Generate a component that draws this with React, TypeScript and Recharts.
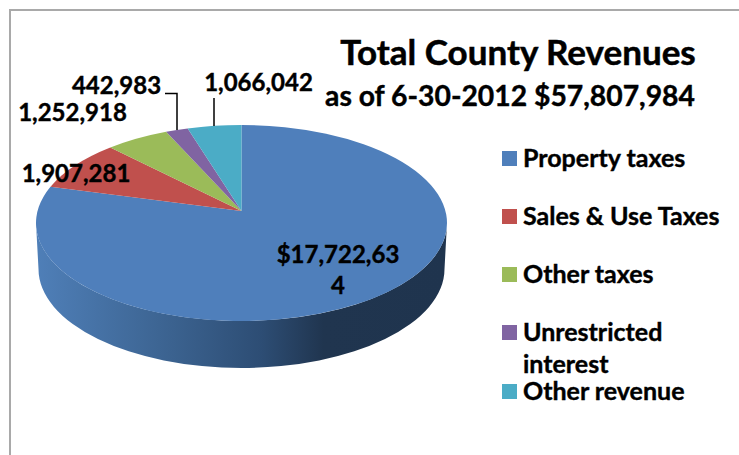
import { PieChart, Pie, Cell, Legend } from 'recharts'

const CATEGORIES = ['Property taxes', 'Sales & Use Taxes', 'Other taxes', 'Unrestricted interest', 'Other revenue']
const VALUES = [17722634, 1907281, 1252918, 442983, 1066042]
const COLORS = ['#4f7fbb', '#c0504d', '#9bbb59', '#8064a2', '#4bacc6']
const TITLE = 'Total County Revenues'
const SUBTITLE = 'as of 6-30-2012 $57,807,984'

const data = CATEGORIES.map((name, i) => ({ name, value: VALUES[i] }))

const FONT = 'Lato, sans-serif'
const RY = 98
const DEPTH_RX = 203
const DEPTH_RY = 99
const DEPTH_CY = 269
const FACE_DROP = 12 // ellipse centre sits below the apex because of the tilt
const SQUEEZE = 0.884 // perspective squeeze of the angles towards the back

// Pie angle -> angle around the tilted ellipse, clockwise from the top
function project(angle: number) {
  const a = ((90 - angle) * Math.PI) / 180
  const t = 2 * Math.atan(SQUEEZE * Math.tan(a / 2))
  return t < 0 ? t + 2 * Math.PI : t
}

function TiltedSector({ cx, cy, outerRadius, startAngle, endAngle, fill }: {
  cx: number; cy: number; outerRadius: number; startAngle: number; endAngle: number; fill: string
}) {
  const t0 = project(startAngle)
  const t1 = project(endAngle)
  const ey = cy + FACE_DROP
  const x0 = cx + outerRadius * Math.sin(t0)
  const y0 = ey - RY * Math.cos(t0)
  const x1 = cx + outerRadius * Math.sin(t1)
  const y1 = ey - RY * Math.cos(t1)
  const large = t1 - t0 > Math.PI ? 1 : 0
  const face = `M${cx},${cy} L${x0},${y0} A${outerRadius},${RY} 0 ${large} 1 ${x1},${y1} Z`
  // only the big slice shows its side, it covers the whole front
  const wall = `M${cx + outerRadius},${ey} A${outerRadius},${RY} 0 0 1 ${cx - outerRadius},${ey} L${cx - DEPTH_RX},${DEPTH_CY} A${DEPTH_RX},${DEPTH_RY} 0 0 0 ${cx + DEPTH_RX},${DEPTH_CY} Z`
  return (
    <g>
      {startAngle === 90 && <path d={wall} fill="url(#wallFill)" />}
      <path d={face} fill={fill} />
    </g>
  )
}

const LABEL_POS = [
  { x: 338, y: 263 },
  { x: 76, y: 182 },
  { x: 72.5, y: 121 },
  { x: 116.5, y: 94 },
  { x: 258.5, y: 91 },
]
const LEADERS: Record<number, string> = {
  3: '165,93.5 177,93.5 177,130',
  4: '214,98 214,126',
}

function SliceLabel({ index, value }: { index: number; value: number }) {
  const p = LABEL_POS[index]
  const style = { fontFamily: FONT, fontWeight: 700, fontSize: 24, fill: '#000', stroke: '#000', strokeWidth: 0.4 }
  if (index === 0) {
    const txt = '$' + value.toLocaleString('en-US')
    return (
      <text x={p.x} y={p.y} textAnchor="middle" style={style}>
        <tspan x={p.x}>{txt.slice(0, -1)}</tspan>
        <tspan x={p.x} dy={31}>{txt.slice(-1)}</tspan>
      </text>
    )
  }
  return (
    <g>
      {LEADERS[index] && <polyline points={LEADERS[index]} fill="none" stroke="#000" strokeWidth={1.5} />}
      <text x={p.x} y={p.y} textAnchor="middle" style={style}>{value.toLocaleString('en-US')}</text>
    </g>
  )
}

function LegendRows({ payload }: { payload?: { value: string; color: string }[] }) {
  return (
    <div style={{ position: 'relative', fontFamily: FONT, fontWeight: 700, fontSize: 25, color: '#000', WebkitTextStroke: '0.4px #000' }}>
      {(payload ?? []).map((item, i) => (
        <div key={item.value} style={{ position: 'absolute', left: 502, top: [151, 209, 267, 325, 384][i] }}>
          <div style={{ position: 'absolute', left: 0, top: 0, width: 15, height: 15, backgroundColor: item.color }} />
          <div style={{ position: 'absolute', left: 21, top: -10, width: 215, lineHeight: '32px' }}>{item.value}</div>
        </div>
      ))}
    </div>
  )
}

export default function App() {
  return (
    <div style={{ position: 'absolute', left: 0, top: 0, width: 739, height: 455, overflow: 'hidden', backgroundColor: '#fff' }}>
      <div style={{ position: 'absolute', left: 9, top: 9, width: 728, height: 470, border: '2px solid #a9a9a9' }} />
      <PieChart width={739} height={455} margin={{ top: 0, right: 0, bottom: 0, left: 0 }} style={{ position: 'absolute', left: 0, top: 0 }}>
        <defs>
          <linearGradient id="wallFill" x1="0" y1="0" x2="1" y2="0">
            <stop offset="0" stopColor="#4f7fb8" />
            <stop offset="0.3" stopColor="#3d6593" />
            <stop offset="0.55" stopColor="#2d4d74" />
            <stop offset="0.7" stopColor="#20354f" />
            <stop offset="1" stopColor="#1f344e" />
          </linearGradient>
        </defs>
        <Pie
          data={data}
          dataKey="value"
          nameKey="name"
          cx={241.5}
          cy={211}
          innerRadius={0}
          outerRadius={205.5}
          startAngle={90}
          endAngle={-270}
          stroke="none"
          isAnimationActive={false}
          shape={TiltedSector as never}
          labelLine={false}
          label={SliceLabel as never}
        >
          {data.map((_, i) => <Cell key={i} fill={COLORS[i]} />)}
        </Pie>
        <Legend itemSorter={null} content={LegendRows as never} wrapperStyle={{ position: 'absolute', left: 0, top: 0, width: 739, height: 0 }} />
        <text x={518} y={65} textAnchor="middle" style={{ fontFamily: FONT, fontWeight: 700, fontSize: 35, fill: '#000', stroke: '#000', strokeWidth: 0.5 }}>{TITLE}</text>
        <text x={510} y={106} textAnchor="middle" style={{ fontFamily: FONT, fontWeight: 700, fontSize: 28.3, fill: '#000', stroke: '#000', strokeWidth: 0.4 }}>{SUBTITLE}</text>
      </PieChart>
    </div>
  )
}
